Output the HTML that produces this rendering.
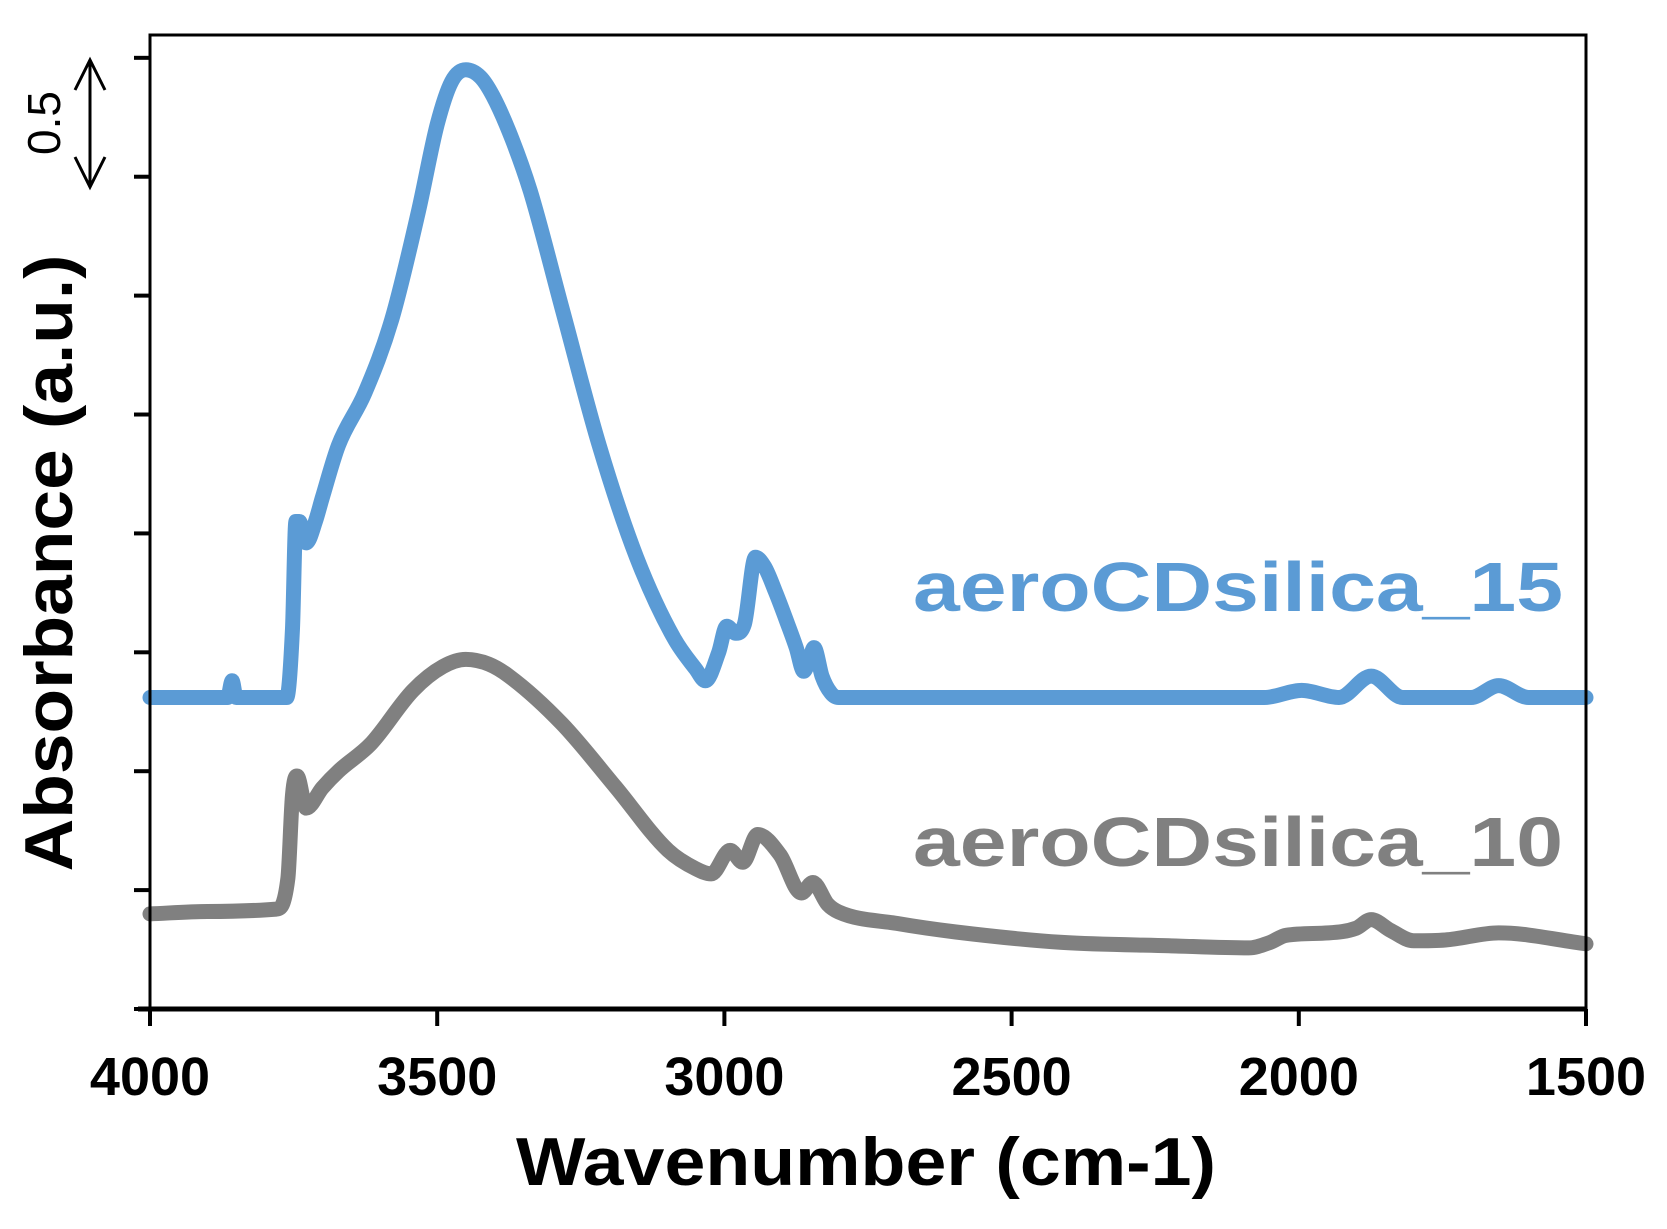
<!DOCTYPE html>
<html><head><meta charset="utf-8"><style>
html,body{margin:0;padding:0;background:#fff;}
svg{display:block;}
text{font-family:"Liberation Sans",Arial,sans-serif;}
</style></head>
<body>
<svg id="chart" width="1667" height="1229" viewBox="0 0 1667 1229" xmlns="http://www.w3.org/2000/svg">
<g id="plot"></g>
</svg>
<script>
const xTicks = [4000, 3500, 3000, 2500, 2000, 1500];
const yTickCount = 9;
const wn15 = [4000,3900,3865,3857,3850,3790,3762,3752,3746,3740,3728,3712,3700,3672,3626,3579,3533,3500,3475,3450,3425,3403,3370,3338,3283,3218,3153,3088,3050,3033,3010,2996,2980,2965,2946,2930,2912,2890,2875,2862,2852,2844,2830,2815,2801,2300,2060,1995,1930,1874,1819,1700,1652,1600,1500];
const ab15 = [1.31,1.31,1.31,1.38,1.31,1.31,1.31,1.6,2.05,2.05,1.96,2.05,2.15,2.37,2.59,2.90,3.35,3.72,3.90,3.95,3.92,3.84,3.66,3.44,2.95,2.37,1.90,1.56,1.43,1.38,1.50,1.61,1.58,1.62,1.90,1.86,1.76,1.62,1.52,1.42,1.47,1.52,1.40,1.33,1.31,1.31,1.31,1.34,1.31,1.40,1.31,1.31,1.36,1.31,1.31];
const wn10 = [4000,3900,3780,3760,3752,3744,3728,3700,3672,3616,3542,3490,3450,3410,3375,3283,3190,3098,3050,3023,2990,2968,2942,2903,2866,2846,2820,2801,2700,2597,2412,2226,2087,2050,2022,1948,1900,1874,1840,1800,1745,1652,1500];
const ab10 = [0.40,0.41,0.42,0.55,0.90,0.98,0.845,0.93,1.00,1.114,1.34,1.44,1.47,1.45,1.40,1.20,0.935,0.667,0.59,0.568,0.667,0.617,0.734,0.648,0.488,0.532,0.44,0.408,0.36,0.324,0.28,0.266,0.257,0.28,0.31,0.32,0.34,0.376,0.33,0.287,0.29,0.32,0.274];

const X0=150, X1=1586, Y0=1009, Y1=35;
const xs = w => X0 + (4000 - w) / 2500 * (X1 - X0);
const ys = v => Y0 - v / 4.096 * (Y0 - Y1);
const NS = "http://www.w3.org/2000/svg";
const g = document.getElementById('plot');
function mk(tag, attrs){const e=document.createElementNS(NS,tag);for(const k in attrs)e.setAttribute(k,attrs[k]);g.appendChild(e);return e;}

// monotone cubic (Fritsch-Carlson) in screen coords
function path(wn, ab){
  const X = wn.map(xs), Y = ab.map(ys), n = X.length;
  const d = [], m = new Array(n);
  for(let i=0;i<n-1;i++) d.push((Y[i+1]-Y[i])/(X[i+1]-X[i]));
  m[0]=d[0]; m[n-1]=d[n-2];
  for(let i=1;i<n-1;i++) m[i] = (d[i-1]*d[i] <= 0) ? 0 : (d[i-1]+d[i])/2;
  for(let i=0;i<n-1;i++){
    if(d[i]===0){m[i]=0;m[i+1]=0;continue;}
    const a=m[i]/d[i], b=m[i+1]/d[i], s=a*a+b*b;
    if(s>9){const t=3/Math.sqrt(s); m[i]=t*a*d[i]; m[i+1]=t*b*d[i];}
  }
  let p = 'M'+X[0].toFixed(1)+','+Y[0].toFixed(1);
  for(let i=0;i<n-1;i++){
    const h=(X[i+1]-X[i])/3;
    p+=' C'+(X[i]+h).toFixed(1)+','+(Y[i]+m[i]*h).toFixed(1)+' '+(X[i+1]-h).toFixed(1)+','+(Y[i+1]-m[i+1]*h).toFixed(1)+' '+X[i+1].toFixed(1)+','+Y[i+1].toFixed(1);
  }
  return p;
}
const p10 = mk('path',{d:path(wn10,ab10),fill:'none',stroke:'#808080','stroke-width':15,'stroke-linejoin':'round','stroke-linecap':'round'});


const p15 = mk('path',{d:path(wn15,ab15),fill:'none',stroke:'#5b9bd5','stroke-width':15,'stroke-linejoin':'round','stroke-linecap':'round'});



const frame = mk('rect',{x:X0,y:Y1,width:X1-X0,height:Y0-Y1,fill:'none',stroke:'#000','stroke-width':3});


const xaxis = mk('line',{x1:X0-12,y1:Y0,x2:X1,y2:Y0,stroke:'#000','stroke-width':5});



xTicks.forEach(t=>{
  const l = mk('line',{x1:xs(t),y1:Y0,x2:xs(t),y2:Y0+17,stroke:'#000','stroke-width':4});
  
  
  const tx = mk('text',{x:xs(t),y:1095,'text-anchor':'middle','font-size':54,'font-weight':'bold',fill:'#000'});
  tx.textContent = t;
  
  
});
for(let i=0;i<yTickCount;i++){
  const y = ys(i*0.5);
  const l = mk('line',{x1:X0-16,y1:y,x2:X0,y2:y,stroke:'#000','stroke-width':4});
  
  
}
</script>
<svg style="position:absolute;left:0;top:0" width="1667" height="1229">
  <text x="1563" y="611" text-anchor="end" font-size="70" font-weight="bold" fill="#5b9bd5" textLength="650" lengthAdjust="spacingAndGlyphs">aeroCDsilica_15</text>
  <text x="1563" y="866" text-anchor="end" font-size="70" font-weight="bold" fill="#808080" textLength="650" lengthAdjust="spacingAndGlyphs">aeroCDsilica_10</text>
  <text x="866" y="1185" text-anchor="middle" font-size="68" font-weight="bold" fill="#000" textLength="700" lengthAdjust="spacingAndGlyphs">Wavenumber (cm-1)</text>
  <text transform="translate(72,563) rotate(-90)" text-anchor="middle" font-size="68" font-weight="bold" fill="#000" textLength="617" lengthAdjust="spacingAndGlyphs">Absorbance (a.u.)</text>
  <text transform="translate(60,123) rotate(-90)" text-anchor="middle" font-size="46" fill="#000">0.5</text>
  <g stroke="#000" stroke-width="3" fill="none">
    <line x1="90" y1="60" x2="90" y2="187"/>
    <polyline points="75,90 90,60 105,90"/>
    <polyline points="75,157 90,187 105,157"/>
  </g>
</svg>
</body></html>
